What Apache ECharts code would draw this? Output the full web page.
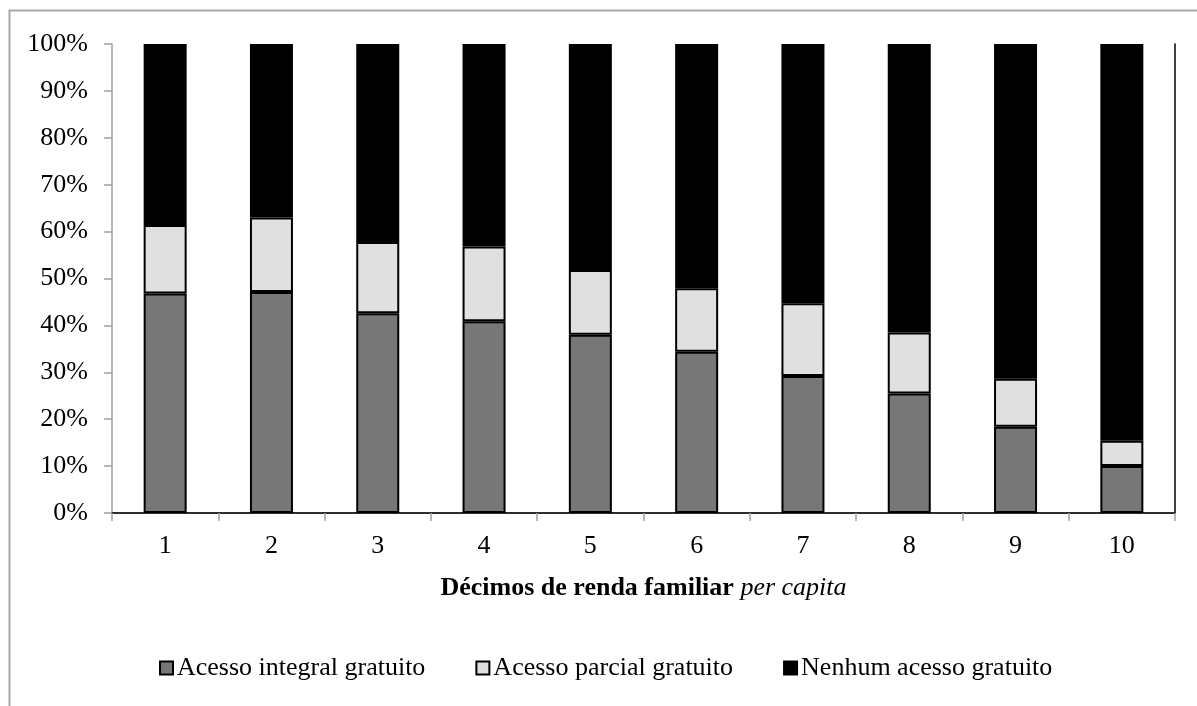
<!DOCTYPE html>
<html>
<head>
<meta charset="utf-8">
<script src="https://cdn.jsdelivr.net/npm/echarts@6/dist/echarts.min.js"></script>
<style>
html,body{margin:0;padding:0;background:#fff;}
#chart{width:1197px;height:706px;}
</style>
</head>
<body>
<div id="chart"></div>
<script>
const categories = ['1','2','3','4','5','6','7','8','9','10'];
const seriesNames = ['Acesso integral gratuito','Acesso parcial gratuito','Nenhum acesso gratuito'];
const integral = [46.8, 47.1, 42.6, 40.9, 38.0, 34.4, 29.2, 25.5, 18.4, 10.0];
const parcial  = [14.6, 15.9, 15.2, 15.9, 13.8, 13.5, 15.5, 13.0, 10.2, 5.4];
const nenhum   = [38.6, 37.0, 42.2, 43.2, 48.2, 52.1, 55.3, 61.5, 71.4, 84.6];
const yTicks = {min: 0, max: 100, interval: 10};
const xTitle = 'Décimos de renda familiar ';
const xTitleItalic = 'per capita';

const FONT = '"Liberation Serif", "Times New Roman", serif';
const axisGray = '#a0a0a0';
const colors = ['#777777', '#e0e0e0', '#000000'];

const chart = echarts.init(document.getElementById('chart'), null, {renderer: 'canvas'});
const dataSets = [integral, parcial, nenhum];

chart.setOption({
  animation: false,
  backgroundColor: '#ffffff',
  textStyle: {fontFamily: FONT, color: '#000'},
  graphic: [{
    type: 'rect',
    left: 7, top: 8,
    shape: {width: 1400, height: 1000},
    style: {fill: 'none', stroke: '#a6a6a6', lineWidth: 2},
    silent: true, z: -10
  }],
  grid: {left: 112, right: 22, top: 44, bottom: 193, containLabel: false},
  legend: {
    left: 154, top: 650,
    itemWidth: 13, itemHeight: 13,
    itemGap: 50,
    icon: 'rect',
    textStyle: {fontFamily: FONT, fontSize: 26, color: '#000', padding: [0,0,0,-1]},
    data: seriesNames
  },
  xAxis: [{
    type: 'category',
    data: categories,
    boundaryGap: true,
    axisLine: {show: true, lineStyle: {color: axisGray, width: 1.5}},
    axisTick: {show: true, length: 8, inside: false, alignWithLabel: false, lineStyle: {color: axisGray, width: 1.5}},
    axisLabel: {fontFamily: FONT, fontSize: 26, color: '#000', margin: 20},
    splitLine: {show: false},
    name: '{b|' + xTitle + '}{i|' + xTitleItalic + '}',
    nameLocation: 'middle',
    nameGap: 62,
    nameTextStyle: {
      fontFamily: FONT, fontSize: 26, color: '#000', verticalAlign: 'top',
      rich: {
        b: {fontFamily: FONT, fontSize: 26, fontWeight: 'bold', color: '#000'},
        i: {fontFamily: FONT, fontSize: 26, fontStyle: 'italic', color: '#000'}
      }
    }
  }, {
    type: 'category',
    data: categories,
    position: 'top',
    axisLine: {show: true, lineStyle: {color: '#000', width: 1.5}},
    axisTick: {show: false},
    axisLabel: {show: false}
  }],
  yAxis: [{
    type: 'value',
    min: yTicks.min, max: yTicks.max, interval: yTicks.interval,
    axisLine: {show: true, lineStyle: {color: axisGray, width: 1.5}},
    axisTick: {show: true, length: 8, lineStyle: {color: axisGray, width: 1.5}},
    axisLabel: {fontFamily: FONT, fontSize: 26, color: '#000', margin: 24, formatter: '{value}%'},
    splitLine: {show: false}
  }, {
    type: 'value',
    position: 'right',
    min: yTicks.min, max: yTicks.max, interval: yTicks.interval,
    axisLine: {show: true, lineStyle: {color: '#000', width: 1.5}},
    axisTick: {show: false},
    axisLabel: {show: false},
    splitLine: {show: false}
  }],
  series: seriesNames.map((name, i) => ({
    name: name,
    type: 'bar',
    stack: 'total',
    xAxisIndex: 0,
    yAxisIndex: 0,
    barWidth: 43,
    data: dataSets[i],
    itemStyle: {color: colors[i], borderColor: '#000', borderWidth: 2}
  }))
});
</script>
</body>
</html>
